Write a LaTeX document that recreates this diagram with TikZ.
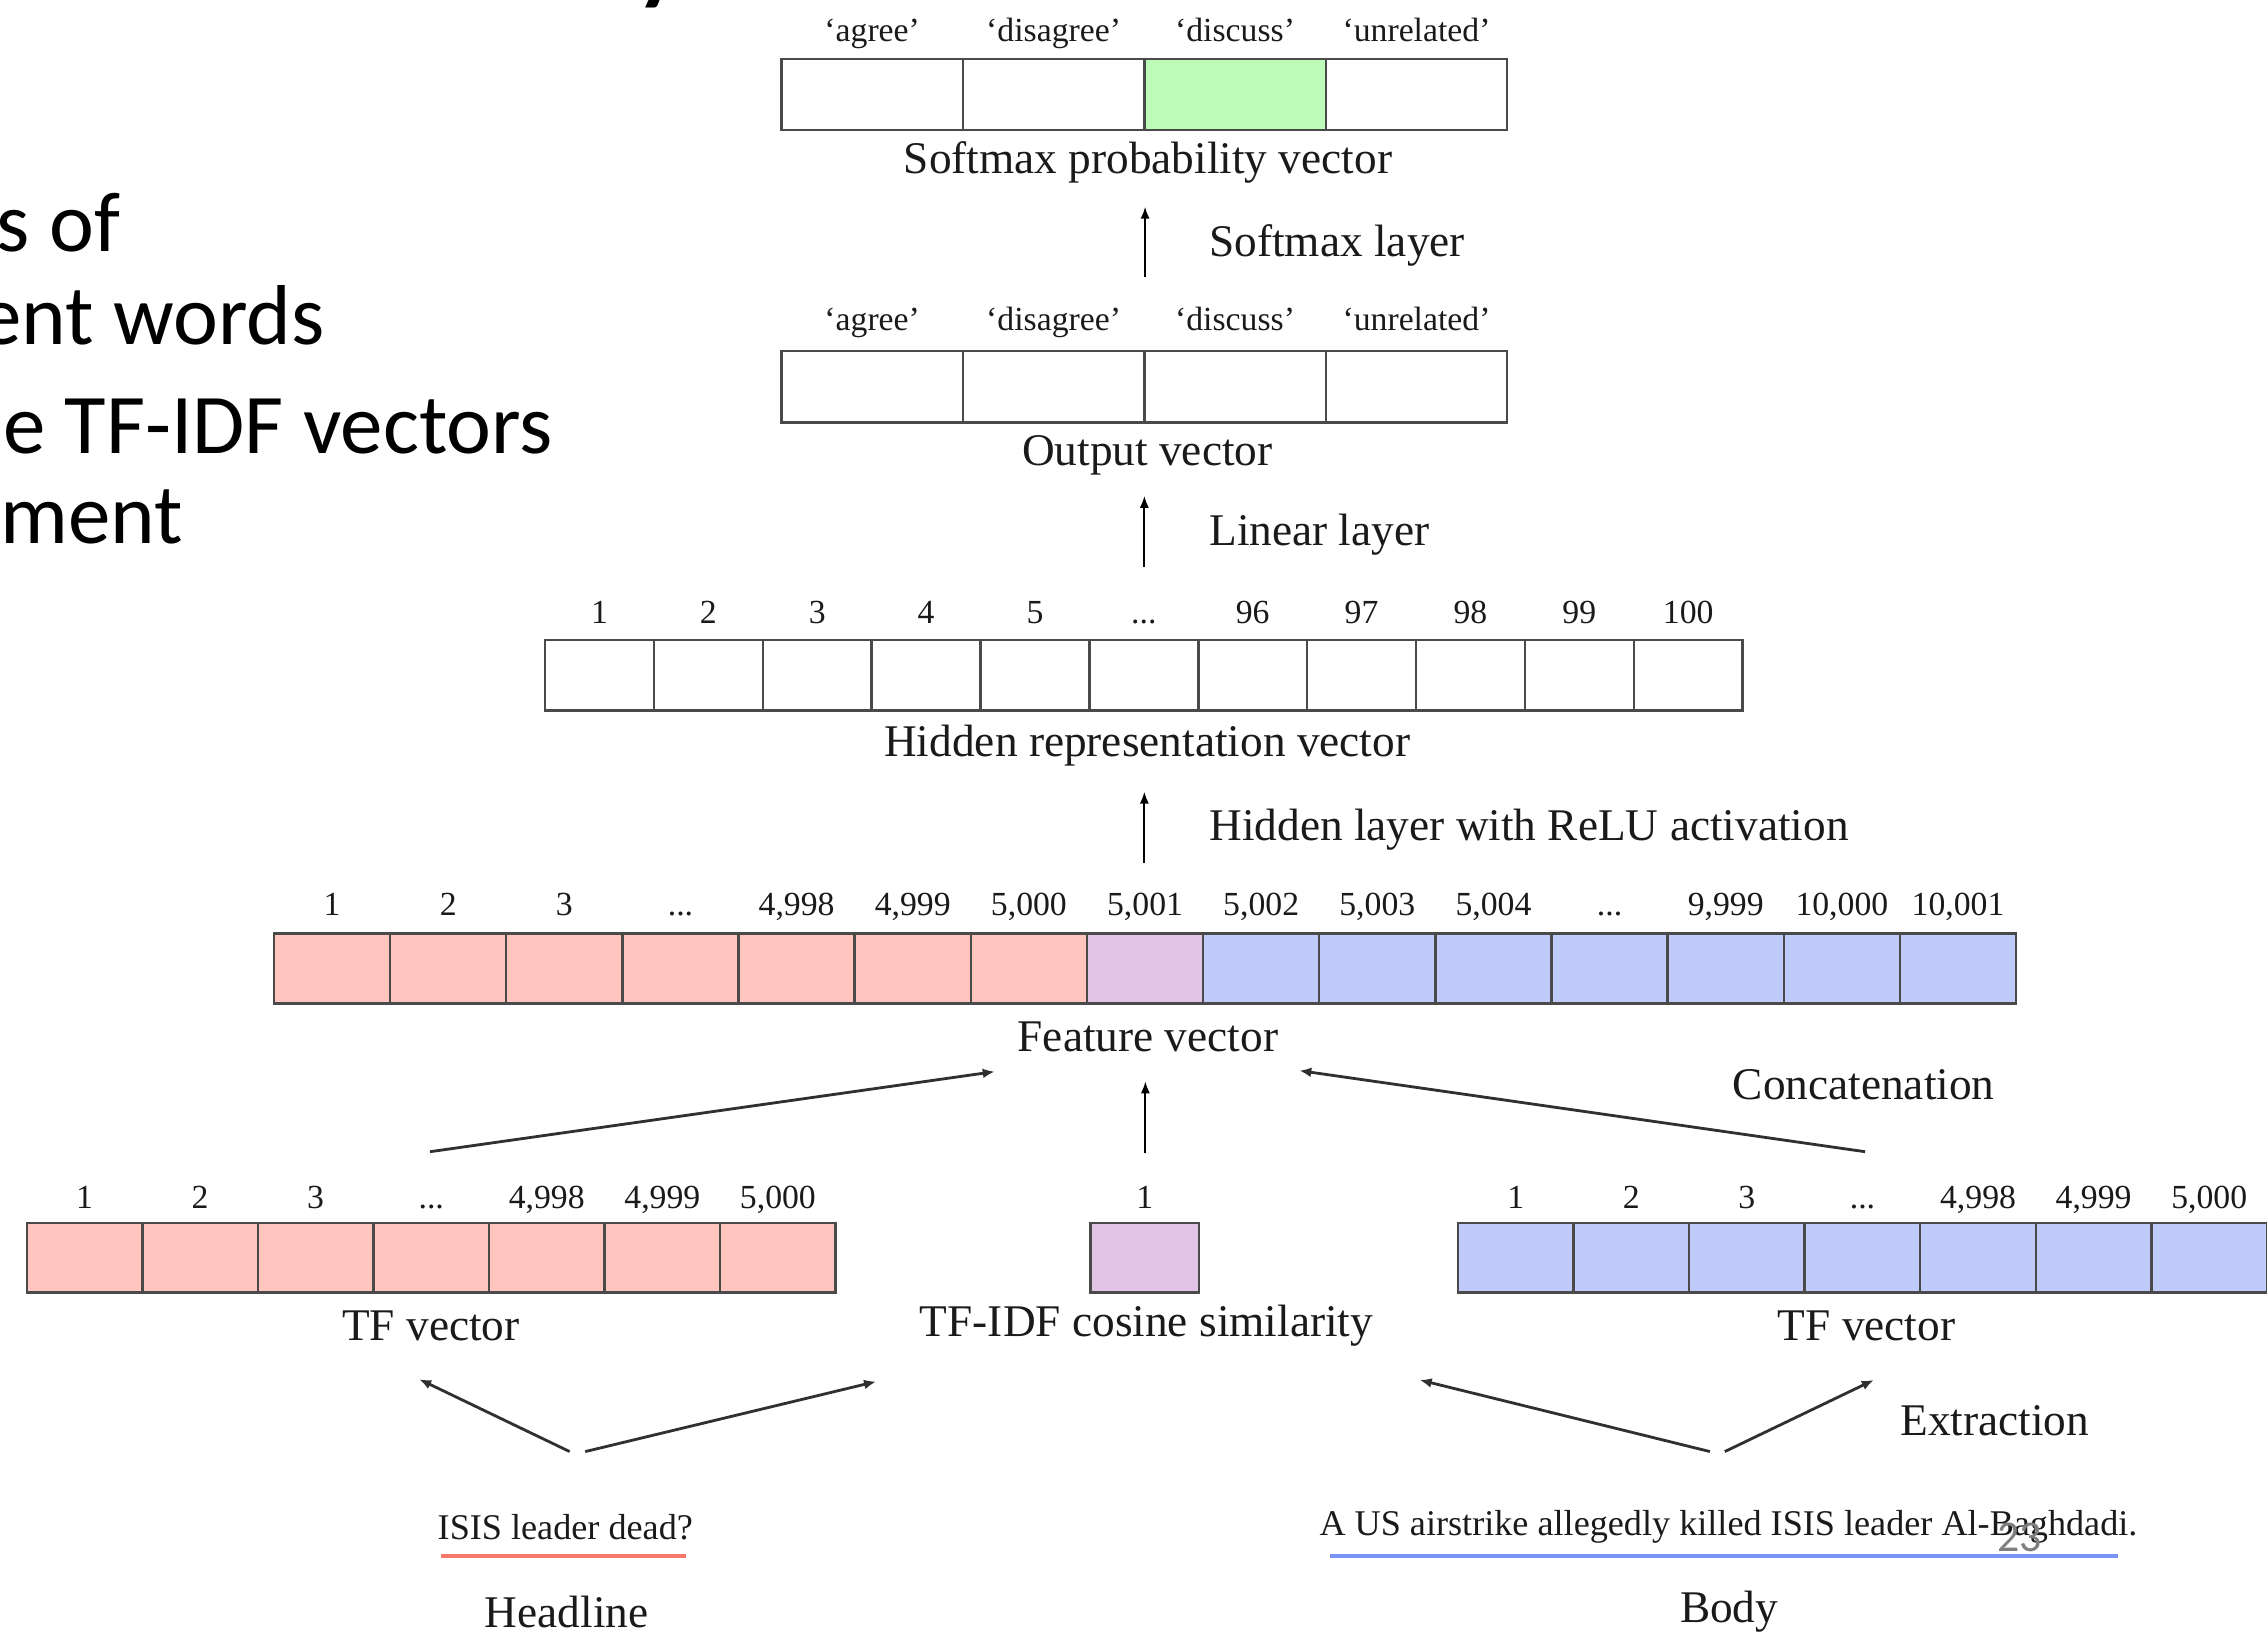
\documentclass[tikz,border=0pt]{standalone}
\usepackage{fontspec}
\setmainfont{Liberation Serif}
\newfontfamily\slidefont{Carlito}
\usetikzlibrary{arrows.meta}
\definecolor{pinkc}{HTML}{FFC5BE}
\definecolor{lilacc}{HTML}{E2C4E6}
\definecolor{bluec}{HTML}{C0CAFB}
\definecolor{greenc}{HTML}{BDFBB9}
\definecolor{cellline}{HTML}{4A4A4A}
\definecolor{arrcol}{HTML}{303030}
\definecolor{txtc}{HTML}{1A1A1A}
\definecolor{redline}{HTML}{F5786A}
\definecolor{blueline}{HTML}{7C93F6}
\definecolor{pgnum}{HTML}{7F7F7F}
\newcommand\bigf{\fontsize{12.9}{15}\selectfont}
\newcommand\smallf{\fontsize{9.6}{11}\selectfont}
\newcommand\sentf{\fontsize{10.3}{12}\selectfont}
\newcommand\slidef{\slidefont\fontsize{24.2}{29}\selectfont}
\newcommand\dts{...}
\def\pxu{0.014458cm}
\tikzset{
  cell/.style={draw=cellline, line width=0.7pt, inner sep=0pt, outer sep=0pt},
  lab/.style={font=\smallf, text=txtc, anchor=base, inner sep=0pt},
  big/.style={font=\bigfont, text=txtc, inner sep=0pt},
  sent/.style={font=\sentf, text=txtc, inner sep=0pt},
  slide/.style={font=\slidef, text=black, anchor=base east, inner sep=0pt},
  conn/.style={-{Latex[length=3.4pt,width=2.8pt]}, line width=0.8pt, draw=arrcol},
  vconn/.style={-{Latex[length=3.4pt,width=2.6pt]}, line width=0.5pt, draw=black},
}
\newcommand\bigfont{\bigf}
\begin{document}
\begin{tikzpicture}[x=0.014458cm, y=-0.014458cm]
\useasboundingbox (0,0) rectangle (1568,1129);

% slide text fragments
\node[anchor=base west, inner sep=0pt, font=\slidefont\fontsize{38}{40}\selectfont] (ttl) at (436,-9) {y};
\node[slide] (s1) at (83.5,174) {s of};
\node[slide] (s2) at (225,238) {ent words};
\node[slide] (s3) at (383,314) {e TF-IDF vectors};
\node[slide] (s4) at (127,376) {ment};

% softmax probability vector
\foreach \t/\c [count=\i] in {‘agree’/white, ‘disagree’/white, ‘discuss’/greenc, ‘unrelated’/white}{
  \node[cell, fill=\c, minimum width=125.5*\pxu, minimum height=49*\pxu] (sm\i) at ({540.5+125.5*(\i-0.5)},65.5) {};
  \node[lab] (sml\i) at ({540.5+125.5*(\i-0.5)},29) {\t};
}
\node[big] (smt) at (794,112.5) {Softmax probability vector};

% output vector
\foreach \t [count=\i] in {‘agree’, ‘disagree’, ‘discuss’, ‘unrelated’}{
  \node[cell, fill=white, minimum width=125.5*\pxu, minimum height=49.3*\pxu] (ov\i) at ({540.5+125.5*(\i-0.5)},267.6) {};
  \node[lab] (ovl\i) at ({540.5+125.5*(\i-0.5)},228.5) {\t};
}
\node[big] (ovt) at (793.5,315) {Output vector};

% hidden vector
\foreach \t [count=\i] in {1,2,3,4,5,\dts,96,97,98,99,100}{
  \node[cell, fill=white, minimum width=75.3*\pxu, minimum height=48.8*\pxu] (hv\i) at ({377+75.3*(\i-0.5)},467.1) {};
  \node[lab] (hvl\i) at ({377+75.3*(\i-0.5)},431) {\t};
}
\node[big] (hvt) at (793.5,516) {Hidden representation vector};

% feature vector
\foreach \t/\c [count=\i] in {1/pinkc,2/pinkc,3/pinkc,\dts/pinkc,{4,998}/pinkc,{4,999}/pinkc,{5,000}/pinkc,{5,001}/lilacc,{5,002}/bluec,{5,003}/bluec,{5,004}/bluec,\dts/bluec,{9,999}/bluec,{10,000}/bluec,{10,001}/bluec}{
  \node[cell, fill=\c, minimum width=80.33*\pxu, minimum height=48.5*\pxu] (fv\i) at ({189.5+80.33*(\i-0.5)},669.8) {};
  \node[lab] (fvl\i) at ({189.5+80.33*(\i-0.5)},633) {\t};
}
\node[big] (fvt) at (794,717) {Feature vector};

% headline TF vector
\foreach \t [count=\i] in {1,2,3,\dts,{4,998},{4,999},{5,000}}{
  \node[cell, fill=pinkc, minimum width=79.93*\pxu, minimum height=47.9*\pxu] (hl\i) at ({18.5+79.93*(\i-0.5)},870) {};
  \node[lab] (hll\i) at ({18.5+79.93*(\i-0.5)},835.6) {\t};
}
\node[big] (hlt) at (298,917) {TF vector};

% cosine similarity
\node[cell, fill=lilacc, minimum width=75*\pxu, minimum height=47.9*\pxu] (cs1) at (791.8,870) {};
\node[lab] (csl1) at (791.8,835.6) {1};
\node[big] (cst) at (793,917) {TF-IDF cosine similarity};

% body TF vector
\foreach \t [count=\i] in {1,2,3,\dts,{4,998},{4,999},{5,000}}{
  \node[cell, fill=bluec, minimum width=79.94*\pxu, minimum height=47.9*\pxu] (bd\i) at ({1008.4+79.94*(\i-0.5)},870) {};
  \node[lab] (bdl\i) at ({1008.4+79.94*(\i-0.5)},835.6) {\t};
}
\node[big] (bdt) at (1291,917) {TF vector};

% layer labels
\node[big, anchor=west] (lsm) at (836,170) {Softmax layer};
\node[big, anchor=west] (llin) at (836,370) {Linear layer};
\node[big, anchor=west] (lhid) at (836,574) {Hidden layer with ReLU activation};
\node[big, anchor=west] (lcat) at (1198,750) {Concatenation};
\node[big, anchor=west] (lext) at (1314,983) {Extraction};

% texts
\node[sent] (hs) at (391,1056) {ISIS leader dead?};
\node[sent] (bs) at (1195.5,1056) {A US airstrike allegedly killed ISIS leader Al-Baghdadi.};
\node[big] (hdl) at (392,1115) {Headline};
\node[big] (bdy) at (1196,1115) {Body};
\node[inner sep=0pt, font=\slidefont\fontsize{12.5}{14}\selectfont, text=pgnum] (pg) at (1397,1063.5) {23};

% coordinates for connectors
\coordinate (a1s) at (792,191.4);  \coordinate (a1e) at (792,143);
\coordinate (a2s) at (791.5,392);  \coordinate (a2e) at (791.5,343);
\coordinate (a3s) at (791.5,597);  \coordinate (a3e) at (791.5,547.6);
\coordinate (c1s) at (297.4,796.6); \coordinate (c1e) at (688,741.2);
\coordinate (c2s) at (792.2,797.7); \coordinate (c2e) at (792.2,748);
\coordinate (c3s) at (1290,796.6); \coordinate (c3e) at (898.7,740.5);
\coordinate (e1s) at (394,1004);   \coordinate (e1e) at (290,954);
\coordinate (e2s) at (404.8,1004); \coordinate (e2e) at (605.9,955.6);
\coordinate (e3s) at (1182.7,1004);\coordinate (e3e) at (982,954.5);
\coordinate (e4s) at (1193,1004);  \coordinate (e4e) at (1296,954.5);
\coordinate (u1s) at (305,1076);   \coordinate (u1e) at (474.5,1076);
\coordinate (u2s) at (920,1076);   \coordinate (u2e) at (1465,1076);

\draw[vconn] (a1s) -- (a1e);
\draw[vconn] (a2s) -- (a2e);
\draw[vconn] (a3s) -- (a3e);
\draw[vconn] (c2s) -- (c2e);
\draw[conn] (c1s) -- (c1e);
\draw[conn] (c3s) -- (c3e);
\draw[conn] (e1s) -- (e1e);
\draw[conn] (e2s) -- (e2e);
\draw[conn] (e3s) -- (e3e);
\draw[conn] (e4s) -- (e4e);
\draw[redline, line width=1.1pt] (u1s) -- (u1e);
\draw[blueline, line width=1.2pt] (u2s) -- (u2e);
\end{tikzpicture}
\end{document}
